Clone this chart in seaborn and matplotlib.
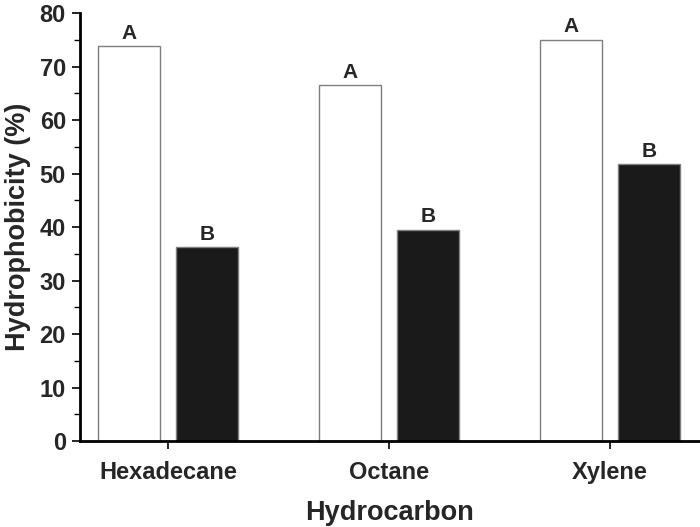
import matplotlib
matplotlib.use("Agg")
import matplotlib.pyplot as plt
import seaborn as sns
import pandas as pd
from matplotlib.ticker import MultipleLocator

categories = ["Hexadecane", "Octane", "Xylene"]
series_names = ["S1", "S2"]
values_s1 = [73.8, 66.5, 75.0]
values_s2 = [36.2, 39.5, 51.8]
letters_s1 = ["A", "A", "A"]
letters_s2 = ["B", "B", "B"]

df = pd.DataFrame({
    "Hydrocarbon": categories * 2,
    "Series": [series_names[0]] * 3 + [series_names[1]] * 3,
    "Value": values_s1 + values_s2,
})

sns.set_style("ticks")
plt.rcParams["font.family"] = ["Liberation Sans", "DejaVu Sans"]
plt.rcParams["font.weight"] = "bold"

fig = plt.figure(figsize=(7, 5.27), dpi=100)
ax = fig.add_axes([0.114, 0.163, 0.884, 0.812])

sns.barplot(data=df, x="Hydrocarbon", y="Value", hue="Series",
            palette=["white", "#1a1a1a"], width=0.71, gap=0.21,
            edgecolor="#7f7f7f", linewidth=1.0, legend=False, ax=ax,
            errorbar=None)

for cont, labs in zip(ax.containers, [letters_s1, letters_s2]):
    ax.bar_label(cont, labels=labs, padding=2.5, fontsize=15, fontweight="bold")

ax.set_xlim(-0.4, 2.4)
ax.set_ylim(0, 80)
ax.yaxis.set_major_locator(MultipleLocator(10))
ax.yaxis.set_minor_locator(MultipleLocator(5))

for s in ["top", "right"]:
    ax.spines[s].set_visible(False)
for s in ["left", "bottom"]:
    ax.spines[s].set_linewidth(2)
    ax.spines[s].set_color("black")

ax.tick_params(axis="y", which="major", length=6, width=1.2, labelsize=17, pad=4, color="black")
ax.tick_params(axis="y", which="minor", length=4, width=1.0, color="black")
ax.tick_params(axis="x", which="major", length=6, width=1.2, labelsize=17, pad=8, color="black")

for lab in ax.get_xticklabels() + ax.get_yticklabels():
    lab.set_fontweight("bold")

ax.set_xlabel("Hydrocarbon", fontsize=19.5, fontweight="bold", labelpad=12)
ax.set_ylabel("Hydrophobicity (%)", fontsize=19.5, fontweight="bold", labelpad=6)

fig.savefig("out.png", dpi=100)
